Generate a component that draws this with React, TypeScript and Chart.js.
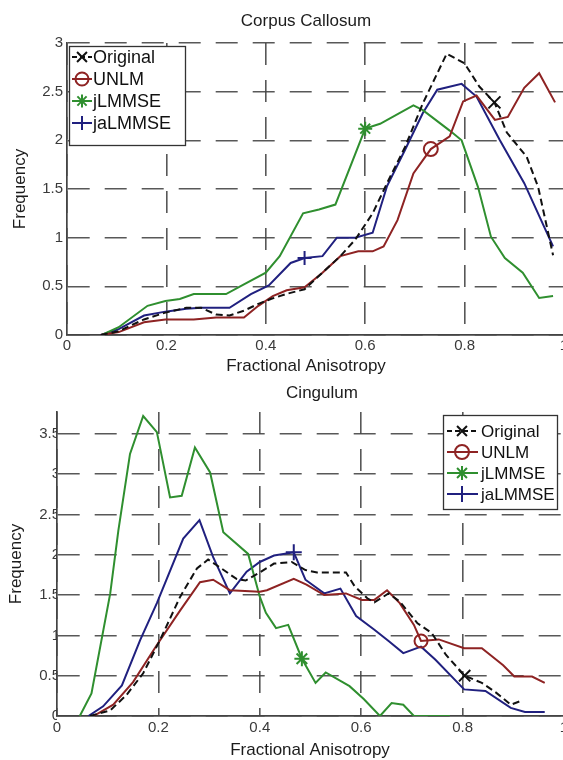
import React, { useEffect, useRef } from "react";
import { Chart, registerables } from "chart.js";

Chart.register(...registerables);

const FAMILY = '"Liberation Sans", Arial, Helvetica, sans-serif';
const TEXT = "#1c1c1c";
const TICK_TEXT = "#3a3a3a";
const GRID = "rgba(70,70,70,0.9)";

const xTicks = [0, 0.2, 0.4, 0.6, 0.8, 1];
const xTickLabels = ["0", "0.2", "0.4", "0.6", "0.8", "1"];
const ccYTicks = [0, 0.5, 1, 1.5, 2, 2.5, 3];
const cgYTicks = [0, 0.5, 1, 1.5, 2, 2.5, 3, 3.5];

const seriesNames = ["Original", "UNLM", "jLMMSE", "jaLMMSE"];
const seriesColors = ["#111111", "#8e2323", "#2f8f2f", "#20207f"];
const seriesMarkers = ["crossRot", "circle", "star", "cross"];

// Corpus Callosum: [fractional anisotropy, frequency]
const ccOriginal = [
  [0.068, 0], [0.104, 0.04], [0.155, 0.16], [0.198, 0.23], [0.24, 0.28], [0.27, 0.28],
  [0.3, 0.21], [0.327, 0.2], [0.356, 0.25], [0.385, 0.32], [0.41, 0.37], [0.44, 0.42],
  [0.478, 0.47], [0.514, 0.64], [0.55, 0.81], [0.58, 0.98], [0.615, 1.25], [0.644, 1.56],
  [0.68, 1.93], [0.716, 2.38], [0.764, 2.89], [0.8, 2.79], [0.83, 2.55], [0.86, 2.39],
  [0.885, 2.08], [0.925, 1.83], [0.948, 1.52], [0.978, 0.82],
];
const ccUNLM = [
  [0.068, 0], [0.104, 0.03], [0.155, 0.13], [0.198, 0.16], [0.255, 0.16], [0.3, 0.18],
  [0.356, 0.18], [0.385, 0.3], [0.414, 0.4], [0.442, 0.46], [0.478, 0.49], [0.514, 0.64],
  [0.55, 0.81], [0.586, 0.86], [0.615, 0.86], [0.637, 0.91], [0.665, 1.18], [0.697, 1.66],
  [0.732, 1.91], [0.77, 2.04], [0.797, 2.4], [0.824, 2.46], [0.861, 2.21], [0.887, 2.24],
  [0.92, 2.54], [0.95, 2.69], [0.982, 2.39],
];
const ccJLMMSE = [
  [0.07, 0], [0.104, 0.08], [0.162, 0.3], [0.198, 0.35], [0.227, 0.37], [0.255, 0.42],
  [0.32, 0.42], [0.356, 0.52], [0.4, 0.64], [0.428, 0.81], [0.475, 1.25], [0.507, 1.29],
  [0.54, 1.34], [0.6, 2.12], [0.63, 2.17], [0.697, 2.36], [0.716, 2.31], [0.77, 2.1],
  [0.794, 2.0], [0.827, 1.52], [0.853, 1.01], [0.881, 0.79], [0.917, 0.64], [0.95, 0.38],
  [0.978, 0.4],
];
const ccJaLMMSE = [
  [0.068, 0], [0.104, 0.06], [0.155, 0.2], [0.198, 0.24], [0.24, 0.27], [0.27, 0.28],
  [0.327, 0.28], [0.37, 0.42], [0.406, 0.51], [0.45, 0.74], [0.478, 0.79], [0.514, 0.81],
  [0.543, 1.0], [0.58, 1.0], [0.615, 1.05], [0.644, 1.53], [0.68, 1.9], [0.716, 2.28],
  [0.745, 2.52], [0.794, 2.58], [0.824, 2.45], [0.871, 2.0], [0.92, 1.56], [0.978, 0.91],
];
const ccMarkerIdx = [23, 18, 13, 10];

// Cingulum: [fractional anisotropy, frequency]
const cgOriginal = [
  [0.065, 0], [0.105, 0.07], [0.137, 0.26], [0.17, 0.53], [0.203, 0.94], [0.243, 1.48],
  [0.276, 1.83], [0.298, 1.94], [0.315, 1.87], [0.354, 1.7], [0.372, 1.68], [0.4, 1.78],
  [0.428, 1.89], [0.463, 1.91], [0.49, 1.81], [0.513, 1.78], [0.57, 1.78], [0.587, 1.61],
  [0.612, 1.46], [0.626, 1.41], [0.654, 1.52], [0.676, 1.42], [0.711, 1.15], [0.739, 1.03],
  [0.767, 0.76], [0.804, 0.5], [0.838, 0.41], [0.866, 0.29], [0.895, 0.14], [0.916, 0.19],
];
const cgUNLM = [
  [0.072, 0], [0.111, 0.14], [0.15, 0.42], [0.197, 0.88], [0.243, 1.31], [0.282, 1.66],
  [0.308, 1.69], [0.341, 1.56], [0.4, 1.54], [0.414, 1.56], [0.467, 1.7], [0.492, 1.63],
  [0.527, 1.5], [0.57, 1.52], [0.601, 1.44], [0.626, 1.44], [0.651, 1.56], [0.676, 1.4],
  [0.704, 1.13], [0.718, 0.93], [0.753, 0.95], [0.803, 0.84], [0.838, 0.84], [0.88, 0.63],
  [0.902, 0.49], [0.937, 0.49], [0.962, 0.41],
];
const cgJLMMSE = [
  [0.045, 0], [0.068, 0.28], [0.105, 1.52], [0.121, 2.3], [0.144, 3.25], [0.17, 3.72],
  [0.197, 3.52], [0.223, 2.71], [0.246, 2.73], [0.272, 3.33], [0.302, 3.02], [0.328, 2.28],
  [0.377, 2.01], [0.4, 1.48], [0.412, 1.28], [0.432, 1.09], [0.456, 1.13], [0.483, 0.71],
  [0.51, 0.41], [0.53, 0.54], [0.577, 0.37], [0.605, 0.21], [0.637, 0], [0.66, 0.16],
  [0.683, 0.14], [0.704, 0], [0.775, 0],
];
const cgJaLMMSE = [
  [0.062, 0], [0.091, 0.12], [0.128, 0.38], [0.164, 0.94], [0.197, 1.4], [0.249, 2.2],
  [0.281, 2.43], [0.308, 1.97], [0.341, 1.52], [0.374, 1.79], [0.4, 1.91], [0.428, 1.99],
  [0.467, 2.03], [0.49, 1.69], [0.527, 1.52], [0.559, 1.58], [0.59, 1.24], [0.626, 1.07],
  [0.654, 0.93], [0.683, 0.78], [0.718, 0.86], [0.746, 0.7], [0.803, 0.33], [0.845, 0.31],
  [0.895, 0.1], [0.923, 0.05], [0.962, 0.05],
];
const cgMarkerIdx = [25, 19, 17, 12];

function drawMarker(ctx: CanvasRenderingContext2D, style: string, x: number, y: number, r: number) {
  ctx.beginPath();
  if (style === "circle") {
    ctx.arc(x, y, r, 0, Math.PI * 2);
  } else {
    const d = r * Math.SQRT1_2;
    if (style === "cross" || style === "star") {
      ctx.moveTo(x - r, y); ctx.lineTo(x + r, y);
      ctx.moveTo(x, y - r); ctx.lineTo(x, y + r);
    }
    if (style === "crossRot" || style === "star") {
      ctx.moveTo(x - d, y - d); ctx.lineTo(x + d, y + d);
      ctx.moveTo(x - d, y + d); ctx.lineTo(x + d, y - d);
    }
  }
  ctx.stroke();
}

type OverlayCfg = {
  title: string; titleX: number; titleY: number;
  xTitle: string; xTitleX: number; xTitleY: number;
  box: { x: number; y: number; w: number; h: number };
  rows: number[]; x1: number; x2: number; mx: number; tx: number; font: number; mr: number[];
};

function makeOverlay(cfg: OverlayCfg) {
  return {
    id: "overlay",
    afterDraw(chart: any) {
      const ctx: CanvasRenderingContext2D = chart.ctx;
      ctx.save();
      ctx.fillStyle = TEXT;
      ctx.font = `17px ${FAMILY}`;
      ctx.textAlign = "center";
      ctx.textBaseline = "middle";
      ctx.fillText(cfg.title, cfg.titleX, cfg.titleY);
      ctx.fillText(cfg.xTitle, cfg.xTitleX, cfg.xTitleY);
      const b = cfg.box;
      ctx.fillStyle = "#ffffff";
      ctx.fillRect(b.x, b.y, b.w, b.h);
      ctx.strokeStyle = "#333333";
      ctx.lineWidth = 1.3;
      ctx.strokeRect(b.x + 0.5, b.y + 0.5, b.w, b.h);
      seriesNames.forEach((name, k) => {
        const y = cfg.rows[k];
        ctx.strokeStyle = seriesColors[k];
        ctx.lineWidth = 2;
        ctx.setLineDash(k === 0 ? [5, 3] : []);
        ctx.beginPath();
        ctx.moveTo(cfg.x1, y);
        ctx.lineTo(cfg.x2, y);
        ctx.stroke();
        ctx.setLineDash([]);
        drawMarker(ctx, seriesMarkers[k], cfg.mx, y, cfg.mr[k]);
        ctx.fillStyle = "#111111";
        ctx.textAlign = "left";
        ctx.font = `${cfg.font}px ${FAMILY}`;
        ctx.fillText(name, cfg.tx, y + 1);
      });
      ctx.restore();
    },
  };
}

function buildDatasets(series: number[][][], markerIdx: number[], sizes: number[]) {
  return series.map((pts, k) => ({
    label: seriesNames[k],
    data: pts.map(([x, y]) => ({ x, y })),
    borderColor: seriesColors[k],
    borderWidth: 2,
    borderDash: k === 0 ? [7, 4] : [],
    tension: 0,
    fill: false,
    pointStyle: seriesMarkers[k],
    pointRadius: pts.map((_, i) => (i === markerIdx[k] ? sizes[k] : 0)),
    pointHoverRadius: 0,
    pointBorderColor: seriesColors[k],
    pointBackgroundColor: "rgba(0,0,0,0)",
    pointBorderWidth: 2,
  }));
}

type Layout = {
  top: number; right: number; yWidth: number; xHeight: number; yMax: number; yTicks: number[];
  xPad: number; yPad: number; yTitlePad: number;
};

function buildConfig(datasets: any[], lay: Layout, overlay: any) {
  const tickFont = { family: FAMILY, size: 15 };
  const grid = { color: GRID, lineWidth: 1.6, drawTicks: false };
  const border = { display: true, color: "#444444", width: 1.7, dash: [22, 15] };
  return {
    type: "line" as const,
    data: { datasets },
    plugins: [overlay],
    options: {
      animation: false as const,
      responsive: false,
      events: [],
      layout: { padding: { top: lay.top, right: lay.right, left: 0, bottom: 0 } },
      plugins: { legend: { display: false }, tooltip: { enabled: false }, title: { display: false } },
      scales: {
        x: {
          type: "linear" as const,
          min: 0,
          max: 1,
          afterBuildTicks: (s: any) => { s.ticks = xTicks.map((v) => ({ value: v })); },
          afterFit: (s: any) => { s.height = lay.xHeight; },
          ticks: {
            autoSkip: false,
            maxRotation: 0,
            padding: lay.xPad,
            color: TICK_TEXT,
            font: tickFont,
            callback: (v: any) => { const i = xTicks.indexOf(Number(v)); return i >= 0 ? xTickLabels[i] : ""; },
          },
          grid,
          border,
        },
        y: {
          type: "linear" as const,
          min: 0,
          max: lay.yMax,
          afterBuildTicks: (s: any) => { s.ticks = lay.yTicks.map((v) => ({ value: v })); },
          afterFit: (s: any) => { s.width = lay.yWidth; },
          ticks: {
            autoSkip: false,
            padding: lay.yPad,
            color: TICK_TEXT,
            font: tickFont,
            callback: (v: any) => String(v),
          },
          title: {
            display: true,
            text: "Frequency",
            color: TEXT,
            font: { family: FAMILY, size: 17 },
            padding: { top: lay.yTitlePad, bottom: 0 },
          },
          grid,
          border,
        },
      },
    },
  };
}

export default function App() {
  const topRef = useRef<HTMLCanvasElement>(null);
  const botRef = useRef<HTMLCanvasElement>(null);

  useEffect(() => {
    const topChart = new Chart(
      topRef.current as HTMLCanvasElement,
      buildConfig(
        buildDatasets([ccOriginal, ccUNLM, ccJLMMSE, ccJaLMMSE], ccMarkerIdx, [8.5, 7, 7, 7]),
        { top: 43, right: 48, yWidth: 67, xHeight: 41, yMax: 3, yTicks: ccYTicks, xPad: 2, yPad: 4, yTitlePad: 10 },
        makeOverlay({
          title: "Corpus Callosum", titleX: 306, titleY: 21,
          xTitle: "Fractional Anisotropy", xTitleX: 306, xTitleY: 366,
          box: { x: 69, y: 46, w: 116, h: 99 },
          rows: [57, 79, 101, 123], x1: 72, x2: 92, mx: 82, tx: 93, font: 18, mr: [7, 6.5, 6.5, 7],
        })
      ) as any
    );
    const botChart = new Chart(
      botRef.current as HTMLCanvasElement,
      buildConfig(
        buildDatasets([cgOriginal, cgUNLM, cgJLMMSE, cgJaLMMSE], cgMarkerIdx, [8, 6.5, 7.5, 8]),
        { top: 36, right: 48, yWidth: 57, xHeight: 44, yMax: 3.77, yTicks: cgYTicks, xPad: 3, yPad: -3, yTitlePad: 6.5 },
        makeOverlay({
          title: "Cingulum", titleX: 322, titleY: 17,
          xTitle: "Fractional Anisotropy", xTitleX: 310, xTitleY: 374,
          box: { x: 443, y: 39, w: 114, h: 94 },
          rows: [55, 76, 97, 118], x1: 447, x2: 478, mx: 462, tx: 481, font: 17, mr: [7, 7, 7, 8],
        })
      ) as any
    );
    return () => {
      topChart.destroy();
      botChart.destroy();
    };
  }, []);

  return (
    <div
      style={{
        position: "fixed",
        left: 0,
        top: 0,
        width: 563,
        height: 760,
        overflow: "hidden",
        background: "#ffffff",
      }}
    >
      <canvas
        ref={topRef}
        width={612}
        height={376}
        style={{ position: "absolute", left: 0, top: 0, width: 612, height: 376 }}
      />
      <canvas
        ref={botRef}
        width={612}
        height={384}
        style={{ position: "absolute", left: 0, top: 376, width: 612, height: 384 }}
      />
    </div>
  );
}
